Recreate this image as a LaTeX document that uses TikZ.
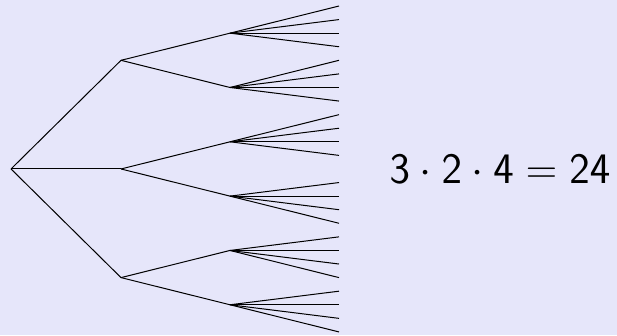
\documentclass[tikz,border=0pt]{standalone}
\usepackage{fix-cm}
\definecolor{bgcol}{RGB}{230,230,250}
\begin{document}
\begin{tikzpicture}[x=1pt,y=-1pt,edge/.style={line width=1pt,black}]
\fill[bgcol] (0,0) rectangle (617,335);
\useasboundingbox (0,0) rectangle (617,335);
\def\s{13.58}
\coordinate (r) at (11,{6+12*\s});
\foreach \i/\k in {0/4,1/12,2/20}{
  \coordinate (a\i) at (121,{6+\k*\s});
  \draw[edge] (r) -- (a\i);
}
\foreach \j/\k/\p in {0/2/0,1/6/0,2/10/1,3/14/1,4/18/2,5/22/2}{
  \coordinate (b\j) at (230,{6+\k*\s});
  \draw[edge] (a\p) -- (b\j);
}
\foreach \j/\st in {0/0,1/4,2/8,3/13,4/17,5/21}{
  \foreach \m in {0,1,2,3}{
    \coordinate (c\j\m) at (339,{6+(\st+\m)*\s});
    \draw[edge] (b\j) -- (c\j\m);
  }
}
\node[anchor=base west,inner sep=0pt,font=\fontsize{43.5}{52}\selectfont] (eq) at (389.5,183) {$\mathsf{3}\cdot\mathsf{2}\cdot\mathsf{4}=\mathsf{24}$};
\end{tikzpicture}
\end{document}
